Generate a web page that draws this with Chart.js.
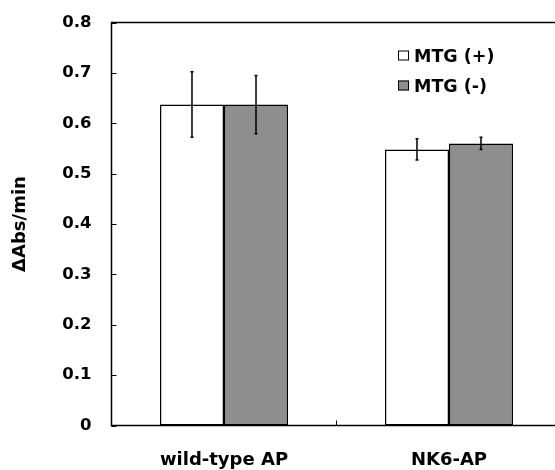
<!DOCTYPE html>
<html lang="en">
<head>
    <meta charset="UTF-8">
    <title>MTG activity</title>
    <script src="https://cdn.jsdelivr.net/npm/chart.js"></script>
    <style>
        html, body { margin: 0; padding: 0; background: #fff; overflow: hidden; }
        #wrap { position: relative; width: 563px; height: 470px; }
    </style>
</head>
<body>
    <div id="wrap"><canvas id="activityChart"></canvas></div>

    <script>
        // values
        const categories = ['wild-type AP', 'NK6-AP'];
        const seriesNames = ['MTG (+)', 'MTG (-)'];
        const mtgPlus = [0.637, 0.548];
        const mtgPlusErr = [0.065, 0.021];
        const mtgMinus = [0.637, 0.560];
        const mtgMinusErr = [0.058, 0.012];
        const yTicks = [0, 0.1, 0.2, 0.3, 0.4, 0.5, 0.6, 0.7, 0.8];

        const FONT = 'DejaVu Sans';
        const GRAY = '#8e8e8e';

        // box, inward ticks, error bars and legend
        const extras = {
            id: 'extras',
            afterDatasetsDraw(chart) {
                const ctx = chart.ctx;
                const area = chart.chartArea;
                const y = chart.scales.y;
                const x = chart.scales.x;
                ctx.save();
                ctx.strokeStyle = '#000';

                // error bars
                const errs = [mtgPlusErr, mtgMinusErr];
                const vals = [mtgPlus, mtgMinus];
                ctx.lineWidth = 1.5;
                chart.data.datasets.forEach((ds, di) => {
                    const meta = chart.getDatasetMeta(di);
                    meta.data.forEach((bar, i) => {
                        const top = y.getPixelForValue(vals[di][i] + errs[di][i]);
                        const bot = y.getPixelForValue(vals[di][i] - errs[di][i]);
                        ctx.beginPath();
                        ctx.moveTo(bar.x, top);
                        ctx.lineTo(bar.x, bot);
                        ctx.moveTo(bar.x - 1.5, top);
                        ctx.lineTo(bar.x + 1.5, top);
                        ctx.moveTo(bar.x - 1.5, bot);
                        ctx.lineTo(bar.x + 1.5, bot);
                        ctx.stroke();
                    });
                });

                // plot box
                ctx.lineWidth = 1.5;
                ctx.strokeRect(area.left, area.top, area.right - area.left, area.bottom - area.top);

                // inward ticks
                ctx.lineWidth = 1;
                yTicks.forEach(v => {
                    const py = Math.round(y.getPixelForValue(v)) + 0.5;
                    ctx.beginPath();
                    ctx.moveTo(area.left, py);
                    ctx.lineTo(area.left + 5, py);
                    ctx.stroke();
                });
                const mid = (x.getPixelForValue(0) + x.getPixelForValue(1)) / 2;
                ctx.beginPath();
                ctx.moveTo(mid, area.bottom);
                ctx.lineTo(mid, area.bottom - 5);
                ctx.stroke();

                // legend
                const fills = ['#ffffff', GRAY];
                ctx.font = 'bold 17.5px "' + FONT + '"';
                ctx.textBaseline = 'middle';
                ctx.fillStyle = '#000';
                seriesNames.forEach((name, i) => {
                    const ly = 50.5 + i * 30;
                    ctx.fillStyle = fills[i];
                    ctx.fillRect(398, ly, 11, 10);
                    ctx.strokeStyle = '#000';
                    ctx.lineWidth = 1;
                    ctx.strokeRect(398.5, ly + 0.5, 10, 9);
                    ctx.fillStyle = '#000';
                    ctx.fillText(name, 414, ly + 7);
                });
                ctx.restore();
            }
        };

        new Chart(document.getElementById('activityChart'), {
            type: 'bar',
            data: {
                labels: categories,
                datasets: [
                    {
                        label: seriesNames[0],
                        data: mtgPlus,
                        backgroundColor: '#ffffff',
                        borderColor: '#000',
                        borderWidth: 1.5,
                        borderSkipped: false,
                        categoryPercentage: 0.569,
                        barPercentage: 1.0
                    },
                    {
                        label: seriesNames[1],
                        data: mtgMinus,
                        backgroundColor: GRAY,
                        borderColor: '#000',
                        borderWidth: 1.5,
                        borderSkipped: false,
                        categoryPercentage: 0.569,
                        barPercentage: 1.0
                    }
                ]
            },
            options: {
                responsive: true,
                maintainAspectRatio: false,
                animation: false,
                layout: { padding: { top: 22.5, right: 1.5, left: 0, bottom: 0 } },
                plugins: {
                    legend: { display: false },
                    tooltip: { enabled: false }
                },
                scales: {
                    x: {
                        grid: { display: false, drawTicks: false },
                        border: { display: false },
                        ticks: {
                            color: '#000',
                            padding: 24,
                            font: { family: FONT, size: 18, weight: 'bold' }
                        },
                        afterFit(scale) { scale.height = 44.5; }
                    },
                    y: {
                        min: 0,
                        max: 0.8,
                        grid: { display: false, drawTicks: false },
                        border: { display: false },
                        ticks: {
                            stepSize: 0.1,
                            color: '#000',
                            padding: 20,
                            font: { family: FONT, size: 16.5, weight: 'bold' },
                            callback: v => (v === 0 ? '0' : v.toFixed(1))
                        },
                        title: {
                            display: true,
                            text: 'ΔAbs/min',
                            color: '#000',
                            padding: { top: 10, bottom: 0 },
                            font: { family: FONT, size: 18, weight: 'bold' }
                        },
                        afterFit(scale) {
                            scale.width = 111.5;
                            scale.paddingTop = 0;
                            scale.paddingBottom = 0;
                        }
                    }
                }
            },
            plugins: [extras]
        });
    </script>
</body>
</html>
